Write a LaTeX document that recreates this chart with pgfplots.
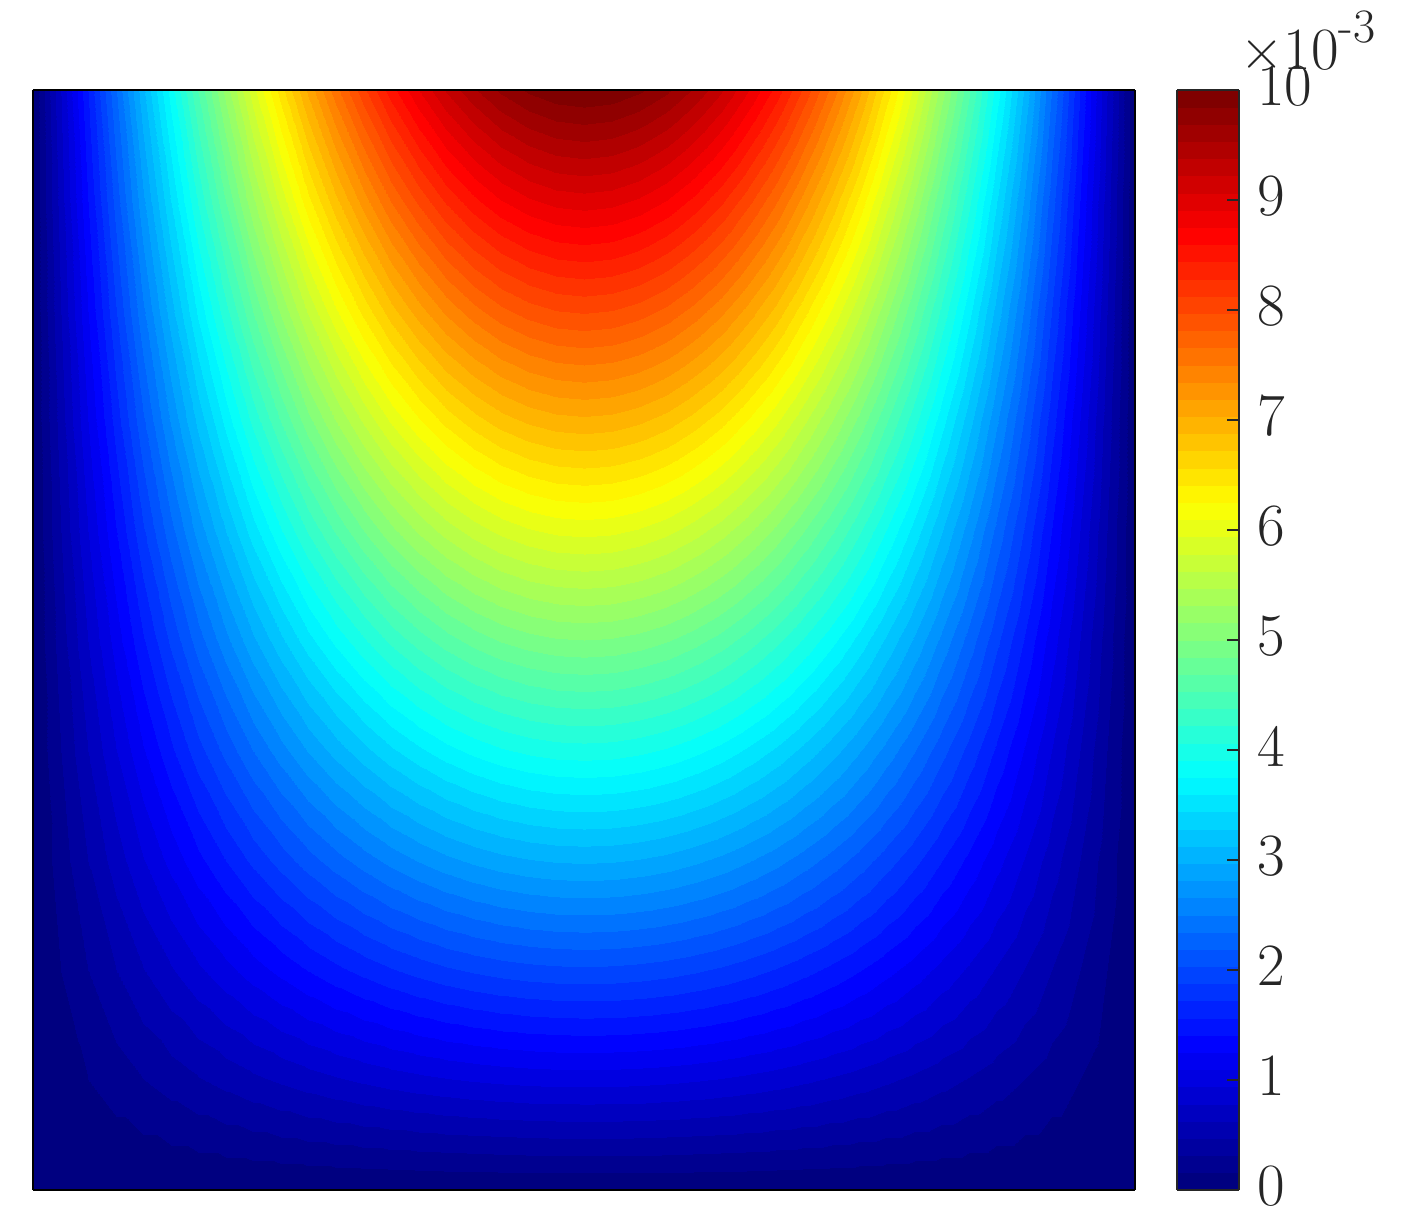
\documentclass[border=0pt]{standalone}
\usepackage{fontspec}
\usepackage{pgfplots}
\pgfplotsset{compat=1.18}
\definecolor{mgray}{gray}{0.15}
\pgfplotsset{colormap={mjet}{rgb255(0cm)=(0,0,128) rgb255(1cm)=(0,0,255) rgb255(3cm)=(0,255,255) rgb255(5cm)=(255,255,0) rgb255(7cm)=(255,0,0) rgb255(8cm)=(128,0,0)}}
\begin{document}
\begin{tikzpicture}
\path[use as bounding box] (0,0) rectangle (702pt,609.5pt);
\begin{axis}[
  at={(16.5pt,14.5pt)}, anchor=south west,
  scale only axis, width=551pt, height=550pt,
  xmin=0, xmax=1, ymin=0, ymax=1,
  view={0}{90},
  xtick=\empty, ytick=\empty,
  axis line style={black, line width=1pt},
  axis on top,
  colormap name=mjet,
  point meta min=0, point meta max=10,
  colorbar,
  colorbar style={
    at={(parent axis.south east)}, anchor=south west, xshift=12.5pt,
    width=31pt, height=550pt,
    ymin=0, ymax=10,
    ytick={0,1,2,3,4,5,6,7,8,9,10},
    ytick pos=right, yticklabel pos=right,
    tick align=inside,
    major tick length=6pt,
    tick style={mgray, line width=0.7pt},
    axis line style={mgray, line width=1.3pt},
    yticklabel style={font=\fontsize{30}{36}\selectfont, text=mgray, xshift=5.5pt, yshift=2pt, /pgf/number format/assume math mode=true},
    scaled y ticks=false,
    axis on top,
  },
]
\addplot3[contour filled={number=64}, mesh/rows=11, mesh/cols=41] coordinates {
(0,0,0)(.025,0,0)(.05,0,0)(.075,0,0)(.1,0,0)(.125,0,0)(.15,0,0)(.175,0,0)(.2,0,0)(.225,0,0)(.25,0,0)(.275,0,0)(.3,0,0)(.325,0,0)(.35,0,0)(.375,0,0)(.4,0,0)(.425,0,0)(.45,0,0)(.475,0,0)(.5,0,0)(.525,0,0)(.55,0,0)(.575,0,0)(.6,0,0)(.625,0,0)(.65,0,0)(.675,0,0)(.7,0,0)(.725,0,0)(.75,0,0)(.775,0,0)(.8,0,0)(.825,0,0)(.85,0,0)(.875,0,0)(.9,0,0)(.925,0,0)(.95,0,0)(.975,0,0)(1,0,0)
(0,.1,0)(.025,.1,.078)(.05,.1,.156)(.075,.1,.233)(.1,.1,.309)(.125,.1,.383)(.15,.1,.454)(.175,.1,.522)(.2,.1,.588)(.225,.1,.649)(.25,.1,.707)(.275,.1,.760)(.3,.1,.809)(.325,.1,.853)(.35,.1,.891)(.375,.1,.924)(.4,.1,.951)(.425,.1,.972)(.45,.1,.988)(.475,.1,.997)(.5,.1,1)(.525,.1,.997)(.55,.1,.988)(.575,.1,.972)(.6,.1,.951)(.625,.1,.924)(.65,.1,.891)(.675,.1,.853)(.7,.1,.809)(.725,.1,.760)(.75,.1,.707)(.775,.1,.649)(.8,.1,.588)(.825,.1,.522)(.85,.1,.454)(.875,.1,.383)(.9,.1,.309)(.925,.1,.233)(.95,.1,.156)(.975,.1,.078)(1,.1,0)
(0,.2,0)(.025,.2,.157)(.05,.2,.313)(.075,.2,.467)(.1,.2,.618)(.125,.2,.765)(.15,.2,.908)(.175,.2,1.045)(.2,.2,1.176)(.225,.2,1.299)(.25,.2,1.414)(.275,.2,1.521)(.3,.2,1.618)(.325,.2,1.705)(.35,.2,1.782)(.375,.2,1.848)(.4,.2,1.902)(.425,.2,1.945)(.45,.2,1.975)(.475,.2,1.994)(.5,.2,2)(.525,.2,1.994)(.55,.2,1.975)(.575,.2,1.945)(.6,.2,1.902)(.625,.2,1.848)(.65,.2,1.782)(.675,.2,1.705)(.7,.2,1.618)(.725,.2,1.521)(.75,.2,1.414)(.775,.2,1.299)(.8,.2,1.176)(.825,.2,1.045)(.85,.2,.908)(.875,.2,.765)(.9,.2,.618)(.925,.2,.467)(.95,.2,.313)(.975,.2,.157)(1,.2,0)
(0,.3,0)(.025,.3,.235)(.05,.3,.469)(.075,.3,.700)(.1,.3,.927)(.125,.3,1.148)(.15,.3,1.362)(.175,.3,1.567)(.2,.3,1.763)(.225,.3,1.948)(.25,.3,2.121)(.275,.3,2.281)(.3,.3,2.427)(.325,.3,2.558)(.35,.3,2.673)(.375,.3,2.772)(.4,.3,2.853)(.425,.3,2.917)(.45,.3,2.963)(.475,.3,2.991)(.5,.3,3)(.525,.3,2.991)(.55,.3,2.963)(.575,.3,2.917)(.6,.3,2.853)(.625,.3,2.772)(.65,.3,2.673)(.675,.3,2.558)(.7,.3,2.427)(.725,.3,2.281)(.75,.3,2.121)(.775,.3,1.948)(.8,.3,1.763)(.825,.3,1.567)(.85,.3,1.362)(.875,.3,1.148)(.9,.3,.927)(.925,.3,.700)(.95,.3,.469)(.975,.3,.235)(1,.3,0)
(0,.4,0)(.025,.4,.314)(.05,.4,.626)(.075,.4,.934)(.1,.4,1.236)(.125,.4,1.531)(.15,.4,1.816)(.175,.4,2.090)(.2,.4,2.351)(.225,.4,2.598)(.25,.4,2.828)(.275,.4,3.042)(.3,.4,3.236)(.325,.4,3.411)(.35,.4,3.564)(.375,.4,3.696)(.4,.4,3.804)(.425,.4,3.889)(.45,.4,3.951)(.475,.4,3.988)(.5,.4,4)(.525,.4,3.988)(.55,.4,3.951)(.575,.4,3.889)(.6,.4,3.804)(.625,.4,3.696)(.65,.4,3.564)(.675,.4,3.411)(.7,.4,3.236)(.725,.4,3.042)(.75,.4,2.828)(.775,.4,2.598)(.8,.4,2.351)(.825,.4,2.090)(.85,.4,1.816)(.875,.4,1.531)(.9,.4,1.236)(.925,.4,.934)(.95,.4,.626)(.975,.4,.314)(1,.4,0)
(0,.5,0)(.025,.5,.392)(.05,.5,.782)(.075,.5,1.167)(.1,.5,1.545)(.125,.5,1.913)(.15,.5,2.270)(.175,.5,2.612)(.2,.5,2.939)(.225,.5,3.247)(.25,.5,3.536)(.275,.5,3.802)(.3,.5,4.045)(.325,.5,4.263)(.35,.5,4.455)(.375,.5,4.619)(.4,.5,4.755)(.425,.5,4.862)(.45,.5,4.938)(.475,.5,4.985)(.5,.5,5)(.525,.5,4.985)(.55,.5,4.938)(.575,.5,4.862)(.6,.5,4.755)(.625,.5,4.619)(.65,.5,4.455)(.675,.5,4.263)(.7,.5,4.045)(.725,.5,3.802)(.75,.5,3.536)(.775,.5,3.247)(.8,.5,2.939)(.825,.5,2.612)(.85,.5,2.270)(.875,.5,1.913)(.9,.5,1.545)(.925,.5,1.167)(.95,.5,.782)(.975,.5,.392)(1,.5,0)
(0,.6,0)(.025,.6,.471)(.05,.6,.939)(.075,.6,1.401)(.1,.6,1.854)(.125,.6,2.296)(.15,.6,2.724)(.175,.6,3.135)(.2,.6,3.527)(.225,.6,3.897)(.25,.6,4.243)(.275,.6,4.562)(.3,.6,4.854)(.325,.6,5.116)(.35,.6,5.346)(.375,.6,5.543)(.4,.6,5.706)(.425,.6,5.834)(.45,.6,5.926)(.475,.6,5.982)(.5,.6,6)(.525,.6,5.982)(.55,.6,5.926)(.575,.6,5.834)(.6,.6,5.706)(.625,.6,5.543)(.65,.6,5.346)(.675,.6,5.116)(.7,.6,4.854)(.725,.6,4.562)(.75,.6,4.243)(.775,.6,3.897)(.8,.6,3.527)(.825,.6,3.135)(.85,.6,2.724)(.875,.6,2.296)(.9,.6,1.854)(.925,.6,1.401)(.95,.6,.939)(.975,.6,.471)(1,.6,0)
(0,.7,0)(.025,.7,.549)(.05,.7,1.095)(.075,.7,1.634)(.1,.7,2.163)(.125,.7,2.679)(.15,.7,3.178)(.175,.7,3.658)(.2,.7,4.115)(.225,.7,4.546)(.25,.7,4.950)(.275,.7,5.323)(.3,.7,5.663)(.325,.7,5.968)(.35,.7,6.237)(.375,.7,6.467)(.4,.7,6.657)(.425,.7,6.807)(.45,.7,6.914)(.475,.7,6.978)(.5,.7,7)(.525,.7,6.978)(.55,.7,6.914)(.575,.7,6.807)(.6,.7,6.657)(.625,.7,6.467)(.65,.7,6.237)(.675,.7,5.968)(.7,.7,5.663)(.725,.7,5.323)(.75,.7,4.950)(.775,.7,4.546)(.8,.7,4.115)(.825,.7,3.658)(.85,.7,3.178)(.875,.7,2.679)(.9,.7,2.163)(.925,.7,1.634)(.95,.7,1.095)(.975,.7,.549)(1,.7,0)
(0,.8,0)(.025,.8,.628)(.05,.8,1.251)(.075,.8,1.868)(.1,.8,2.472)(.125,.8,3.061)(.15,.8,3.632)(.175,.8,4.180)(.2,.8,4.702)(.225,.8,5.196)(.25,.8,5.657)(.275,.8,6.083)(.3,.8,6.472)(.325,.8,6.821)(.35,.8,7.128)(.375,.8,7.391)(.4,.8,7.608)(.425,.8,7.779)(.45,.8,7.902)(.475,.8,7.975)(.5,.8,8)(.525,.8,7.975)(.55,.8,7.902)(.575,.8,7.779)(.6,.8,7.608)(.625,.8,7.391)(.65,.8,7.128)(.675,.8,6.821)(.7,.8,6.472)(.725,.8,6.083)(.75,.8,5.657)(.775,.8,5.196)(.8,.8,4.702)(.825,.8,4.180)(.85,.8,3.632)(.875,.8,3.061)(.9,.8,2.472)(.925,.8,1.868)(.95,.8,1.251)(.975,.8,.628)(1,.8,0)
(0,.9,0)(.025,.9,.706)(.05,.9,1.408)(.075,.9,2.101)(.1,.9,2.781)(.125,.9,3.444)(.15,.9,4.086)(.175,.9,4.703)(.2,.9,5.290)(.225,.9,5.845)(.25,.9,6.364)(.275,.9,6.844)(.3,.9,7.281)(.325,.9,7.674)(.35,.9,8.019)(.375,.9,8.315)(.4,.9,8.560)(.425,.9,8.751)(.45,.9,8.889)(.475,.9,8.972)(.5,.9,9)(.525,.9,8.972)(.55,.9,8.889)(.575,.9,8.751)(.6,.9,8.560)(.625,.9,8.315)(.65,.9,8.019)(.675,.9,7.674)(.7,.9,7.281)(.725,.9,6.844)(.75,.9,6.364)(.775,.9,5.845)(.8,.9,5.290)(.825,.9,4.703)(.85,.9,4.086)(.875,.9,3.444)(.9,.9,2.781)(.925,.9,2.101)(.95,.9,1.408)(.975,.9,.706)(1,.9,0)
(0,1,0)(.025,1,.785)(.05,1,1.564)(.075,1,2.334)(.1,1,3.090)(.125,1,3.827)(.15,1,4.540)(.175,1,5.225)(.2,1,5.878)(.225,1,6.494)(.25,1,7.071)(.275,1,7.604)(.3,1,8.090)(.325,1,8.526)(.35,1,8.910)(.375,1,9.239)(.4,1,9.511)(.425,1,9.724)(.45,1,9.877)(.475,1,9.969)(.5,1,10)(.525,1,9.969)(.55,1,9.877)(.575,1,9.724)(.6,1,9.511)(.625,1,9.239)(.65,1,8.910)(.675,1,8.526)(.7,1,8.090)(.725,1,7.604)(.75,1,7.071)(.775,1,6.494)(.8,1,5.878)(.825,1,5.225)(.85,1,4.540)(.875,1,3.827)(.9,1,3.090)(.925,1,2.334)(.95,1,1.564)(.975,1,.785)(1,1,0)
};
\end{axis}
\node[anchor=base west, inner sep=0pt, text=mgray, font=\fontsize{30}{36}\selectfont] at (620pt,574.5pt) {×10\raisebox{13.5pt}{\fontsize{24}{29}\selectfont -3}};
\end{tikzpicture}
\end{document}
